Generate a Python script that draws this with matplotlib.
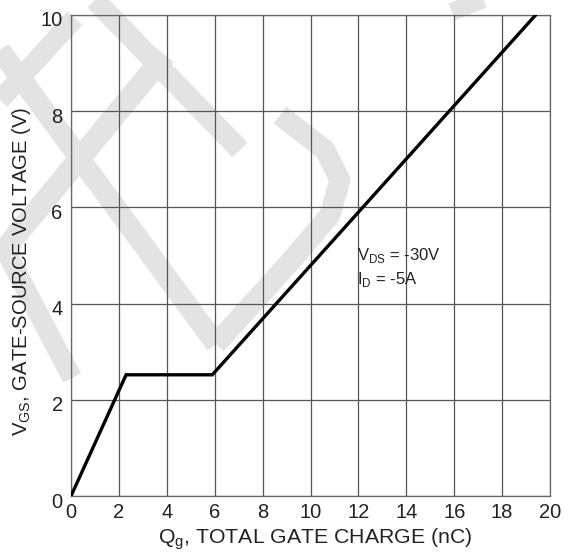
import matplotlib
matplotlib.use("Agg")
import matplotlib.pyplot as plt
import matplotlib.transforms as mtransforms

# Data
qg = [0.0, 2.3, 5.9, 19.4]
vgs = [0.0, 2.52, 2.52, 10.0]
xticks = [0, 2, 4, 6, 8, 10, 12, 14, 16, 18, 20]
yticks = [0, 2, 4, 6, 8, 10]
note_lines = ['V$_\\mathregular{DS}$ = -30V', 'I$_\\mathregular{D}$ = -5A']

plt.rcParams['font.family'] = ['Liberation Sans', 'DejaVu Sans']

W, H = 571, 552
fig = plt.figure(figsize=(W / 100, H / 100), dpi=100)

# faint background watermark (decorative strokes, pixel coordinates of the image)
wm = fig.add_axes([0, 0, 1, 1], zorder=-5)
wm.set_xlim(0, W)
wm.set_ylim(H, 0)
wm.axis('off')
wm_color = '#e3e3e3'
strokes = [
    ([95, 240], [0, 150], 21),
    ([0, 75], [100, 18], 20),
    ([165, 0], [55, 255], 22),
    ([0, 216], [50, 344], 21),
    ([216, 290, 330, 340, 325, 280], [344, 262, 215, 180, 150, 115], 21),
    ([0, 72], [240, 378], 20),
    ([452, 500], [12, -8], 18),
]
for xs, ys, lw in strokes:
    wm.plot(xs, ys, color=wm_color, linewidth=lw * 0.72, solid_capstyle='butt',
            solid_joinstyle='round')

ax = fig.add_axes([71 / W, 56 / H, 479 / W, 481 / H], zorder=1)
ax.patch.set_alpha(0)

ax.set_xlim(0, 20)
ax.set_ylim(0, 10)
ax.set_xticks(xticks)
ax.set_yticks(yticks)
ax.tick_params(length=0, labelsize=14.5, colors='#222222')
ax.tick_params(axis='x', pad=5)
ax.tick_params(axis='y', pad=6)
off = mtransforms.ScaledTranslation(0, -4 / 100, fig.dpi_scale_trans)
for lab in ax.get_yticklabels():
    lab.set_transform(lab.get_transform() + off)
ax.grid(True, color='#555555', linewidth=0.9)
for s in ax.spines.values():
    s.set_color('#666666')
    s.set_linewidth(0.9)

ax.plot(qg, vgs, color='black', linewidth=2.4, solid_joinstyle='miter', zorder=3)

ax.set_xlabel('Q$_\\mathregular{g}$, TOTAL GATE CHARGE (nC)', fontsize=15.3, color='#222222')
ax.xaxis.set_label_coords(0.51, -0.062)
ax.set_ylabel('V$_\\mathregular{GS}$, GATE-SOURCE VOLTAGE (V)', fontsize=14.6, color='#222222')
ax.yaxis.set_label_coords(-0.08, 0.466)

ax.text(11.94, 4.906, note_lines[0], fontsize=12, color='#222222', va='baseline', ha='left')
ax.text(11.94, 4.41, note_lines[1], fontsize=12, color='#222222', va='baseline', ha='left')

fig.savefig('out.png', dpi=100)
